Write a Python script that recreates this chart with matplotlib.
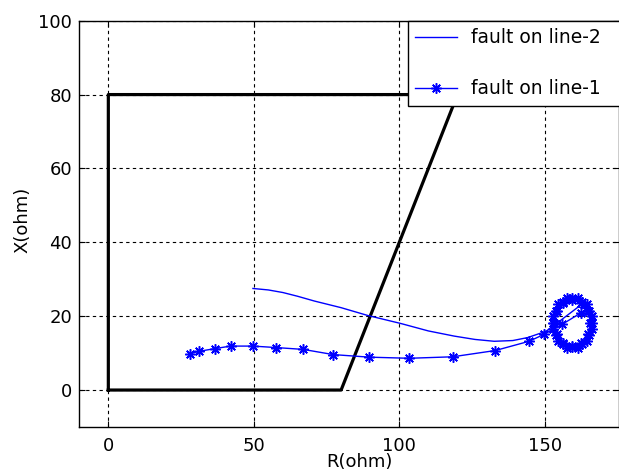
import matplotlib
matplotlib.use('Agg')
import matplotlib.pyplot as plt

plt.rcParams['font.family'] = ['DejaVu Sans']
plt.rcParams['font.size'] = 13

# relay zone (quadrilateral characteristic)
zone_r = [0, 0, 120, 80, 0]
zone_x = [0, 80, 80, 0, 0]

# fault on line-2 trajectory
l2_r = [49.7, 55.0, 60.0, 65.0, 70.8, 80.0, 89.1, 100.6, 110.0, 118.9, 126.0, 132.6, 139.0, 144.1, 150.4,
        156.5, 161.5,
        165.4, 162.9, 159.5, 156.1, 153.6, 152.7, 153.6, 156.1, 159.5, 162.9, 165.4, 166.3,
        165.0, 162.7, 159.5, 156.3, 154.0, 153.1, 154.0, 156.3, 159.5, 162.7, 165.0, 165.6]
l2_x = [27.5, 27.1, 26.4, 25.4, 24.1, 22.3, 20.2, 18.0, 16.0, 14.6, 13.7, 13.2, 13.4, 14.2, 15.9,
        19.5, 22.5,
        21.6, 24.1, 25.0, 24.1, 21.6, 18.2, 14.8, 12.3, 11.4, 12.3, 14.8, 18.2,
        21.4, 23.7, 24.6, 23.7, 21.4, 18.2, 15.0, 12.7, 11.8, 12.7, 15.0, 18.2]

# fault on line-1 trajectory
l1_r = [27.9, 31.3, 36.5, 42.0, 49.7, 57.7, 67.0, 77.3, 89.7, 103.4, 118.3, 133.0, 144.6, 149.8,
        156.0, 162.4,
        165.2, 162.8, 159.5, 156.2, 153.8, 152.9, 153.8, 156.2, 159.5, 162.8, 165.2, 166.1,
        166.3, 164.5, 161.3, 157.7, 154.6, 152.7, 152.7, 154.6, 157.7, 161.3, 164.5, 166.3,
        165.7, 164.9, 162.6, 159.5, 156.4, 154.1, 153.3, 154.1, 156.4, 159.5, 162.6, 164.9]
l1_x = [9.8, 10.5, 11.2, 11.9, 11.9, 11.5, 11.0, 9.6, 8.9, 8.6, 9.0, 10.7, 13.2, 15.1,
        17.8, 20.9,
        21.5, 23.9, 24.8, 23.9, 21.5, 18.2, 14.9, 12.5, 11.6, 12.5, 14.9, 18.2,
        20.0, 23.2, 25.0, 25.0, 23.2, 20.0, 16.4, 13.2, 11.4, 11.4, 13.2, 16.4,
        18.2, 21.3, 23.6, 24.4, 23.6, 21.3, 18.2, 15.1, 12.8, 12.0, 12.8, 15.1]

xticks = [0, 50, 100, 150]
yticks = [0, 20, 40, 60, 80, 100]

fig = plt.figure(figsize=(6.19, 4.76), dpi=100)
ax = fig.add_axes([0.128, 0.103, 0.872, 0.8535])

ax.plot(zone_r, zone_x, color='k', linewidth=2.3)
ax.plot(l2_r, l2_x, color='b', linewidth=1.0, label='fault on line-2')
ax.plot(l1_r, l1_x, color='b', linewidth=1.0, marker=(8, 2, 0), markersize=7.5,
        markeredgewidth=1.1, label='fault on line-1')

ax.set_xlim(-10, 175.5)
ax.set_ylim(-10, 100)
ax.set_xticks(xticks)
ax.set_yticks(yticks)
ax.grid(True, color='k', linestyle=(0, (3, 3)), linewidth=0.8)
ax.tick_params(direction='in', top=True, right=True, length=4)
ax.tick_params(axis='x', pad=7)
ax.tick_params(axis='y', pad=5)
for s in ax.spines.values():
    s.set_linewidth(1.0)

ax.set_xlabel('R(ohm)')
ax.set_ylabel('X(ohm)')
ax.xaxis.set_label_coords(0.52, -0.063)
ax.yaxis.set_label_coords(-0.088, 0.51)

# legend box runs past the right edge, as in the cropped original
leg = ax.legend(loc='upper left', bbox_to_anchor=(0.609, 0.0, 0.41, 1.0), mode='expand',
                borderaxespad=0, fontsize=13.5,
                handlelength=2.2, handletextpad=0.75, borderpad=0.4, labelspacing=1.7,
                numpoints=1, fancybox=False, framealpha=1)
leg.get_frame().set_edgecolor('k')
leg.get_frame().set_linewidth(1.0)

fig.savefig('out.png', dpi=100)
